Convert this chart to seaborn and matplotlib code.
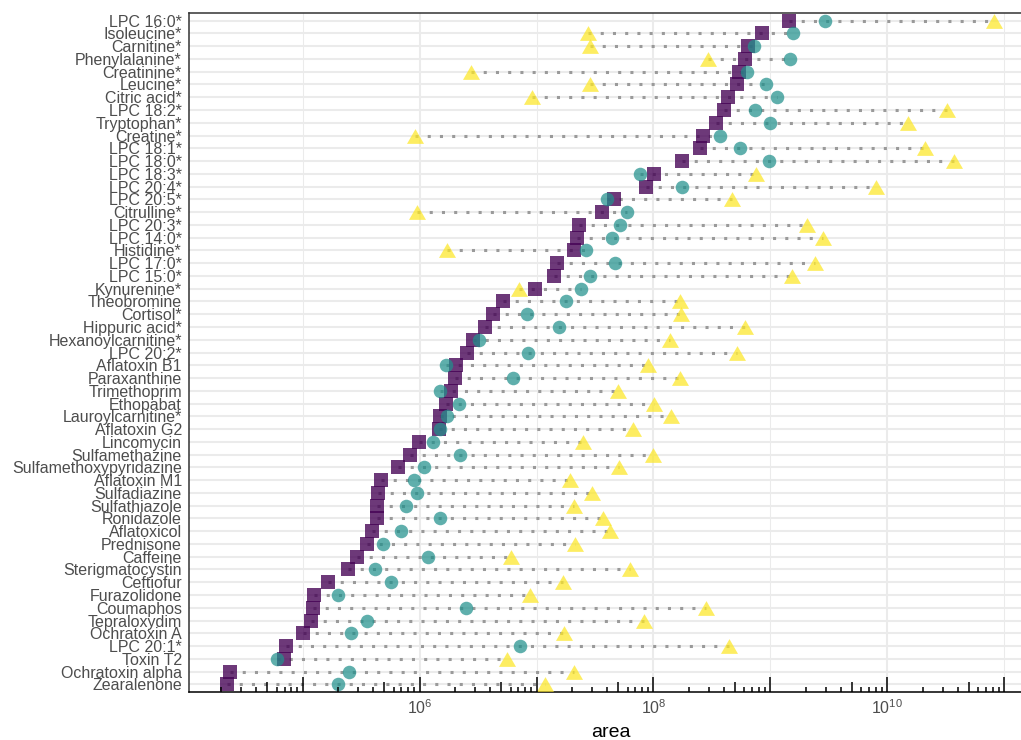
import numpy as np
import pandas as pd
import matplotlib
matplotlib.use("Agg")
import matplotlib.pyplot as plt
from matplotlib.path import Path
from matplotlib.ticker import FixedLocator, FuncFormatter, NullFormatter
import seaborn as sns

# ---------------- data ----------------
compounds = [
    "LPC 16:0*", "Isoleucine*", "Carnitine*", "Phenylalanine*", "Creatinine*",
    "Leucine*", "Citric acid*", "LPC 18:2*", "Tryptophan*", "Creatine*",
    "LPC 18:1*", "LPC 18:0*", "LPC 18:3*", "LPC 20:4*", "LPC 20:5*",
    "Citrulline*", "LPC 20:3*", "LPC 14:0*", "Histidine*", "LPC 17:0*",
    "LPC 15:0*", "Kynurenine*", "Theobromine", "Cortisol*", "Hippuric acid*",
    "Hexanoylcarnitine*", "LPC 20:2*", "Aflatoxin B1", "Paraxanthine", "Trimethoprim",
    "Ethopabat", "Lauroylcarnitine*", "Aflatoxin G2", "Lincomycin", "Sulfamethazine",
    "Sulfamethoxypyridazine", "Aflatoxin M1", "Sulfadiazine", "Sulfathiazole", "Ronidazole",
    "Aflatoxicol", "Prednisone", "Caffeine", "Sterigmatocystin", "Ceftiofur",
    "Furazolidone", "Coumaphos", "Tepraloxydim", "Ochratoxin A", "LPC 20:1*",
    "Toxin T2", "Ochratoxin alpha", "Zearalenone",
]

area_square = [
    1.43e9, 8.49e8, 6.40e8, 6.04e8, 5.36e8, 5.22e8, 4.35e8, 4.02e8, 3.45e8, 2.66e8,
    2.51e8, 1.76e8, 1.01e8, 8.65e7, 4.61e7, 3.60e7, 2.29e7, 2.24e7, 2.08e7, 1.50e7,
    1.40e7, 9.62e6, 5.14e6, 4.24e6, 3.66e6, 2.88e6, 2.52e6, 2.03e6, 1.99e6, 1.87e6,
    1.69e6, 1.49e6, 1.47e6, 9.93e5, 8.26e5, 6.53e5, 4.65e5, 4.44e5, 4.35e5, 4.29e5,
    3.89e5, 3.52e5, 2.93e5, 2.46e5, 1.66e5, 1.26e5, 1.23e5, 1.18e5, 1.00e5, 7.19e4,
    6.97e4, 2.41e4, 2.27e4,
]

area_circle = [
    2.91e9, 1.57e9, 7.19e8, 1.48e9, 6.35e8, 9.25e8, 1.14e9, 7.40e8, 9.86e8, 3.72e8,
    5.46e8, 9.75e8, 7.74e7, 1.75e8, 4.02e7, 5.92e7, 5.19e7, 4.44e7, 2.66e7, 4.71e7,
    2.84e7, 2.41e7, 1.77e7, 8.26e6, 1.57e7, 3.21e6, 8.43e6, 1.68e6, 6.28e6, 1.49e6,
    2.17e6, 1.70e6, 1.49e6, 1.30e6, 2.20e6, 1.09e6, 8.95e5, 9.42e5, 7.64e5, 1.49e6,
    6.89e5, 4.85e5, 1.17e6, 4.18e5, 5.65e5, 2.02e5, 2.49e6, 3.57e5, 2.59e5, 7.29e6,
    6.08e4, 2.47e5, 2.02e5,
]

area_triangle = [
    8.11e10, 2.75e7, 2.84e7, 2.93e8, 2.75e6, 2.84e7, 9.12e6, 3.26e10, 1.50e10, 9.06e5,
    2.11e10, 3.69e10, 7.55e8, 7.94e9, 4.73e8, 9.55e5, 2.07e9, 2.82e9, 1.73e6, 2.41e9,
    1.52e9, 7.06e6, 1.68e8, 1.71e8, 6.04e8, 1.39e8, 5.22e8, 8.93e7, 1.68e8, 4.99e7,
    1.01e8, 1.41e8, 6.62e7, 2.51e7, 9.93e7, 5.06e7, 1.93e7, 2.99e7, 2.11e7, 3.72e7,
    4.29e7, 2.13e7, 6.00e6, 6.35e7, 1.69e7, 8.77e6, 2.82e8, 8.26e7, 1.73e7, 4.44e8,
    5.62e6, 2.08e7, 1.19e7,
]

x_tick_values = [1e6, 1e8, 1e10]

# ---------------- style ----------------
sns.set_theme(style="white")
plt.rcParams["font.family"] = ["Liberation Sans", "DejaVu Sans"]

TEXT_GREY = "#4D4D4D"
PURPLE = "#440154"
TEAL = "#21908C"
YELLOW = "#FDE725"

wide = pd.DataFrame({
    "compound": compounds,
    "square": area_square,
    "circle": area_circle,
    "triangle": area_triangle,
})
wide["lo"] = wide[["square", "circle", "triangle"]].min(axis=1)
wide["hi"] = wide[["square", "circle", "triangle"]].max(axis=1)

fig = plt.figure(figsize=(10.21, 7.40), dpi=100)
ax = fig.add_axes([189 / 1021, 48 / 740, 843 / 1021, 679 / 740])
ax.set_xscale("log")

# dotted range lines (drawn first -> establishes category order)
ax.hlines(y=wide["compound"], xmin=wide["lo"], xmax=wide["hi"],
          colors="#9a9a9a", linewidth=2.2, linestyles=(0, (1, 3)),
          capstyle="butt", zorder=1.5)

tri = Path([(-1, -0.866), (1, -0.866), (0, 0.866), (-1, -0.866)], closed=True)

sns.scatterplot(data=wide, x="square", y="compound", marker="s", s=90,
                color=PURPLE, alpha=0.78, linewidth=0, ax=ax, zorder=3)
sns.scatterplot(data=wide, x="circle", y="compound", marker="o", s=95,
                color=TEAL, alpha=0.72, linewidth=0, ax=ax, zorder=3)
sns.scatterplot(data=wide, x="triangle", y="compound", marker=tri, s=150,
                color=YELLOW, alpha=0.72, linewidth=0, ax=ax, zorder=3)

# limits: 5% expansion in log space, 0.6 on discrete axis
logs = np.log10(np.concatenate([area_square, area_circle, area_triangle]))
rng = logs.max() - logs.min()
ax.set_xlim(10 ** (logs.min() - 0.05 * rng), 10 ** (logs.max() + 0.05 * rng))
n = len(compounds)
ax.set_ylim(n - 1 + 0.6, -0.6)

# grid
ax.set_axisbelow(True)
ax.xaxis.set_major_locator(FixedLocator(x_tick_values))
ax.xaxis.set_major_formatter(FuncFormatter(lambda v, p: r"$\mathregular{10^{%d}}$" % round(np.log10(v))))
ax.xaxis.set_minor_locator(FixedLocator([1e5, 1e7, 1e9, 1e11]))
ax.xaxis.set_minor_formatter(NullFormatter())
ax.grid(True, which="major", axis="both", color="#EBEBEB", linewidth=1.5)
ax.grid(True, which="minor", axis="x", color="#EBEBEB", linewidth=0.75)

ax.tick_params(axis="y", which="major", direction="out", length=3.2, width=1.1,
               color="#333333", labelsize=11.5, labelcolor=TEXT_GREY, pad=2)
ax.tick_params(axis="x", which="major", direction="out", length=3.2, width=1.1,
               color="#333333", labelsize=11.5, labelcolor=TEXT_GREY, pad=1.5)
ax.tick_params(axis="x", which="minor", length=0)

for side, sp in ax.spines.items():
    sp.set_color("#333333")
    sp.set_linewidth(1.1)
ax.spines["bottom"].set_color("black")

# annotation log-ticks inside the panel at the bottom
trans = ax.get_xaxis_transform()
h_px = 679.0
tick_x, tick_h = [], []
for e in range(3, 12):
    for m in range(1, 10):
        tick_x.append(m * 10.0 ** e)
        tick_h.append((15 if m == 1 else 10 if m == 5 else 5) / h_px)
ax.vlines(tick_x, 0, tick_h, transform=trans, colors="black", linewidth=1.1,
          zorder=4, clip_on=True)

ax.set_xlabel("area", fontsize=14, color="black", labelpad=5)
ax.set_ylabel("")

fig.savefig("out.png", dpi=100)
